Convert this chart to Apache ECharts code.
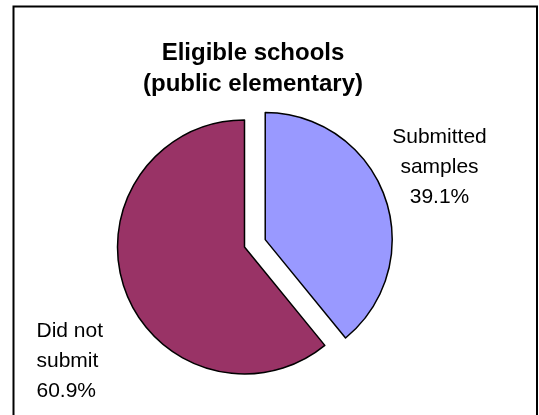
<!DOCTYPE html>
<html>
<head>
<meta charset="utf-8">
<script src="https://cdn.jsdelivr.net/npm/echarts@6/dist/echarts.min.js"></script>
<style>
html,body{margin:0;padding:0;background:#fff;}
#chart{width:539px;height:415px;}
</style>
</head>
<body>
<div id="chart"></div>
<script>
var titleLines = ['Eligible schools', '(public elementary)'];
var categories = ['Submitted\nsamples', 'Did not\nsubmit'];
var values = [39.1, 60.9];
var colors = ['#9999FF', '#993366'];
var labelPos = [
  {x: 439.5, y: 122, align: 'center'},
  {x: 36.5, y: 316.5, align: 'left'}
];
var FONT = 'Liberation Sans, Arial, sans-serif';

var chart = echarts.init(document.getElementById('chart'), null, {renderer: 'canvas'});

var labelGraphics = values.map(function (v, i) {
  var lp = labelPos[i];
  return {
    type: 'text',
    x: lp.x,
    y: lp.y,
    silent: true,
    style: {
      text: categories[i] + '\n' + v.toFixed(1) + '%',
      fontSize: 21,
      fontFamily: FONT,
      lineHeight: 30,
      fill: '#000',
      align: lp.align,
      verticalAlign: 'top'
    }
  };
});

var option = {
  animation: false,
  backgroundColor: '#ffffff',
  title: {
    text: titleLines.join('\n'),
    left: 248,
    top: 33,
    textAlign: 'center',
    textStyle: {
      fontFamily: FONT,
      fontSize: 24,
      fontWeight: 'bold',
      color: '#000',
      lineHeight: 31
    }
  },
  graphic: [{
    type: 'polyline',
    shape: {points: [[13.5, 430], [13.5, 6.5], [537, 6.5], [537, 430]]},
    style: {stroke: '#000', lineWidth: 2, fill: null},
    silent: true
  }].concat(labelGraphics),
  series: [{
    type: 'pie',
    center: [244.5, 247],
    radius: 127,
    startAngle: 90,
    clockwise: true,
    selectedMode: 'single',
    selectedOffset: 22,
    emphasis: {disabled: true, scale: false},
    itemStyle: {borderColor: '#000', borderWidth: 1.5},
    label: {show: false},
    labelLine: {show: false},
    data: values.map(function (v, i) {
      return {
        name: categories[i],
        value: v,
        selected: i === 0,
        itemStyle: {color: colors[i]}
      };
    })
  }]
};
chart.setOption(option);
</script>
</body>
</html>
